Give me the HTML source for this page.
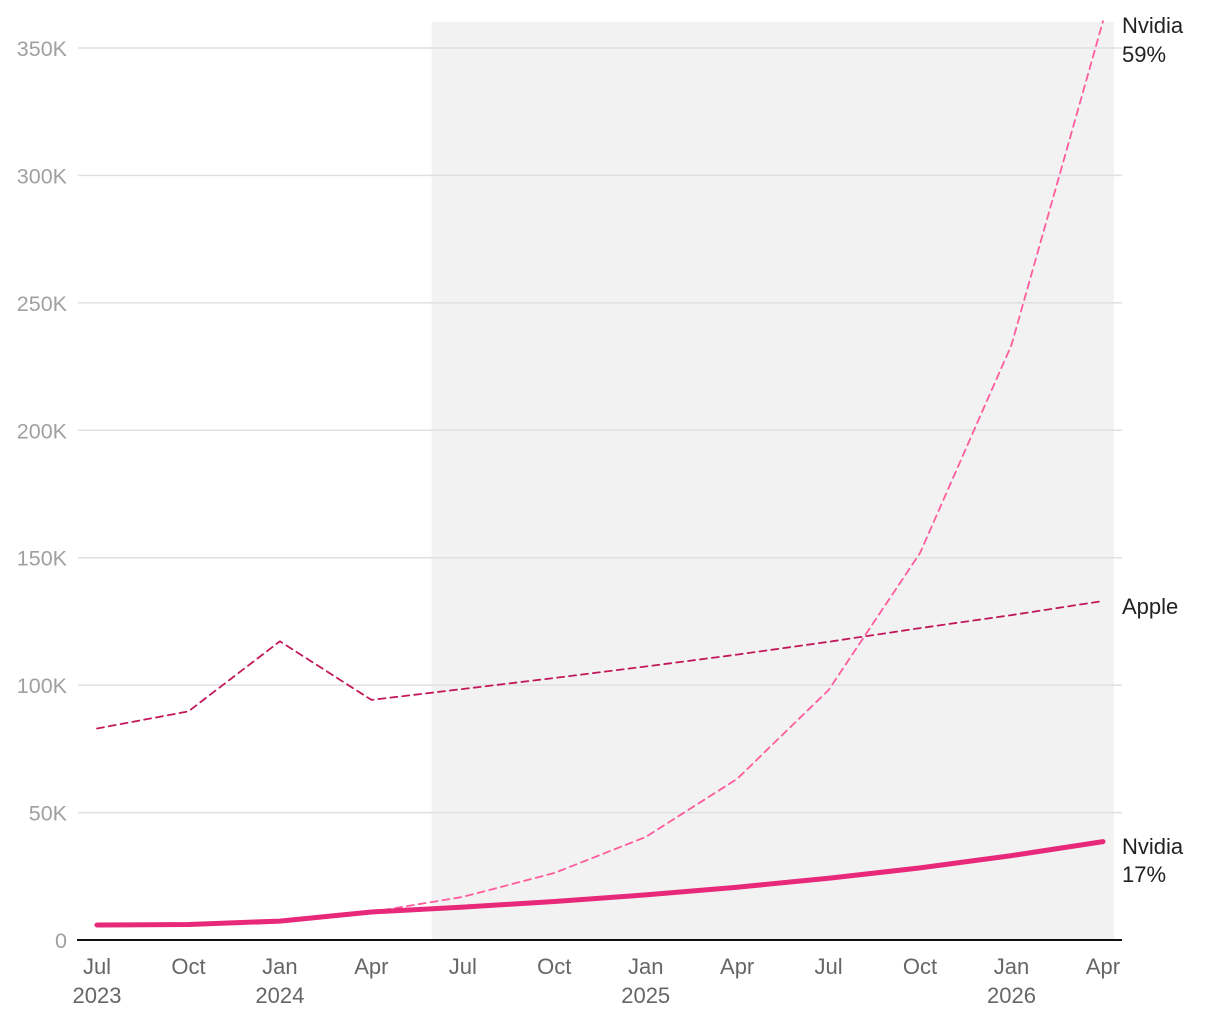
<!DOCTYPE html>
<html><head><meta charset="utf-8"><style>
body{margin:0;background:#fff;}
svg text{font-family:"Liberation Sans",sans-serif;}
</style></head><body>
<svg id="chart" width="1220" height="1020" xmlns="http://www.w3.org/2000/svg"></svg>
<script>
const xLabels=["Jul","Oct","Jan","Apr","Jul","Oct","Jan","Apr","Jul","Oct","Jan","Apr"];
const yearLabels=["2023","","2024","","","","2025","","","","2026",""];
const yTicks=[0,50000,100000,150000,200000,250000,300000,350000];
const yTickLabels=["0","50K","100K","150K","200K","250K","300K","350K"];
const appleValues=[83000,89700,117200,94200,98500,102800,107300,112000,117000,122400,127500,133000];
const nvidia17Values=[5900,6100,7400,11000,12900,15100,17700,20700,24200,28300,33100,38600];
const nvidia59Idx=[3,4,5,6,7,8,9,10,11];
const nvidia59Values=[11000,16900,26300,40400,63200,98100,151900,233500,360500];
const shadeStart=3.66, shadeEnd=11.12;

const svg=document.getElementById('chart');
const NS='http://www.w3.org/2000/svg';
const X=i=>97+i*91.45;
const Y=v=>940-v*(892/350000);
function mk(tag,attrs,parent){const e=document.createElementNS(NS,tag);for(const k in attrs)e.setAttribute(k,attrs[k]);(parent||svg).appendChild(e);return e;}

const shade=mk('rect',{x:X(shadeStart),y:22,width:X(shadeEnd)-X(shadeStart),height:918,fill:'#f2f2f2'});



yTicks.forEach((t,i)=>{
  if(i>0){const g=mk('line',{x1:78,x2:1122,y1:Y(t),y2:Y(t),stroke:'#e0e0e0','stroke-width':1.5});
  
  }
  const l=mk('text',{x:67,y:Y(t)+8,'text-anchor':'end','font-size':21.5,fill:'#a0a0a0'});
  l.textContent=yTickLabels[i];
  
  
});
xLabels.forEach((m,i)=>{
  const t=mk('text',{x:X(i),y:974,'text-anchor':'middle','font-size':22,fill:'#666'});
  t.textContent=m;
  
  
  if(yearLabels[i]){const y=mk('text',{x:X(i),y:1003,'text-anchor':'middle','font-size':22,fill:'#666'});
  y.textContent=yearLabels[i];
  
  }
});
function line(idx,vals,color,w,dash,name){
  const d=vals.map((v,k)=>(k?'L':'M')+X(idx[k]).toFixed(1)+','+Y(v).toFixed(1)).join(' ');
  const p=mk('path',{d:d,fill:'none',stroke:color,'stroke-width':w,'stroke-dasharray':dash||'none','stroke-linecap':'round','stroke-linejoin':'round'});
  
  
}
const all=xLabels.map((_,i)=>i);
line(all,appleValues,'#c2185b',1.8,'7,5','apple-line');
line(nvidia59Idx,nvidia59Values,'#ff5c9d',1.8,'7,5','nvidia-59-line');
line(all,nvidia17Values,'#e8287a',5,null,'nvidia-17-line');
const ax=mk('line',{x1:77,x2:1122,y1:940,y2:940,stroke:'#111','stroke-width':2});


function lab(txt,y,name){const t=mk('text',{x:1122,y:y,'font-size':22,fill:'#222'});t.textContent=txt;

}
lab('Nvidia',33,'nvidia-59-label');lab('59%',62,'nvidia-59-pct');
lab('Apple',614,'apple-label');
lab('Nvidia',854,'nvidia-17-label');lab('17%',882,'nvidia-17-pct');
</script>
</body></html>
